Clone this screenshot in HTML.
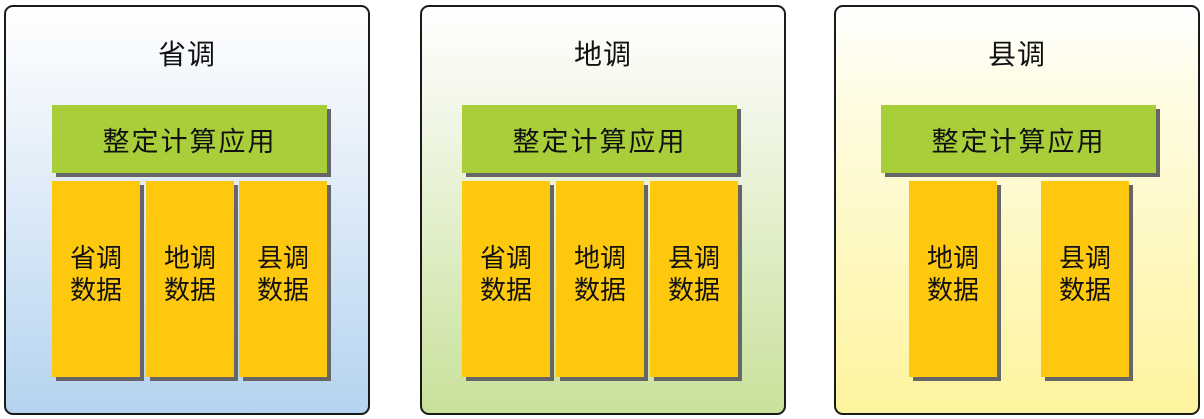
<!DOCTYPE html>
<html><head><meta charset="utf-8"><style>
body{margin:0;width:1204px;height:419px;background:#fff;position:relative;overflow:hidden;font-family:"Liberation Sans","Noto Sans CJK SC",sans-serif;}
.p{position:absolute;top:5px;width:362px;height:406px;border:2px solid #1a1a1a;border-radius:9px;box-sizing:content-box;}
.t{position:absolute;top:33px;left:0;right:0;text-align:center;font-size:28px;line-height:30px;color:#111;letter-spacing:1px;}
.g,.y{position:absolute;box-shadow:4px 4px 0 #666;display:flex;align-items:center;justify-content:center;text-align:center;color:#111;}
.g{background:#a8ce3a;height:68px;width:275px;top:105px;font-size:27px;letter-spacing:2px;}
.y{background:#fdc80d;top:181px;height:186px;padding-bottom:10px;width:88px;font-size:26px;line-height:32px;}
</style></head><body>
<div class="p" style="left:4px;background:linear-gradient(#fff 0%,#eef4fb 25%,#b5d3ef 100%)"><div class="t">省调</div></div>
<div class="p" style="left:420px;background:linear-gradient(#fff 0%,#f2f7e8 25%,#c9e19b 100%)"><div class="t">地调</div></div>
<div class="p" style="left:834px;background:linear-gradient(#fff 0%,#fffbe0 25%,#fdf49d 100%)"><div class="t">县调</div></div>

<div class="g" style="left:52px">整定计算应用</div>
<div class="y" style="left:52px">省调<br>数据</div>
<div class="y" style="left:146px">地调<br>数据</div>
<div class="y" style="left:239px">县调<br>数据</div>

<div class="g" style="left:462px">整定计算应用</div>
<div class="y" style="left:462px">省调<br>数据</div>
<div class="y" style="left:556px">地调<br>数据</div>
<div class="y" style="left:650px">县调<br>数据</div>

<div class="g" style="left:881px">整定计算应用</div>
<div class="y" style="left:909px">地调<br>数据</div>
<div class="y" style="left:1041px">县调<br>数据</div>
</body></html>
